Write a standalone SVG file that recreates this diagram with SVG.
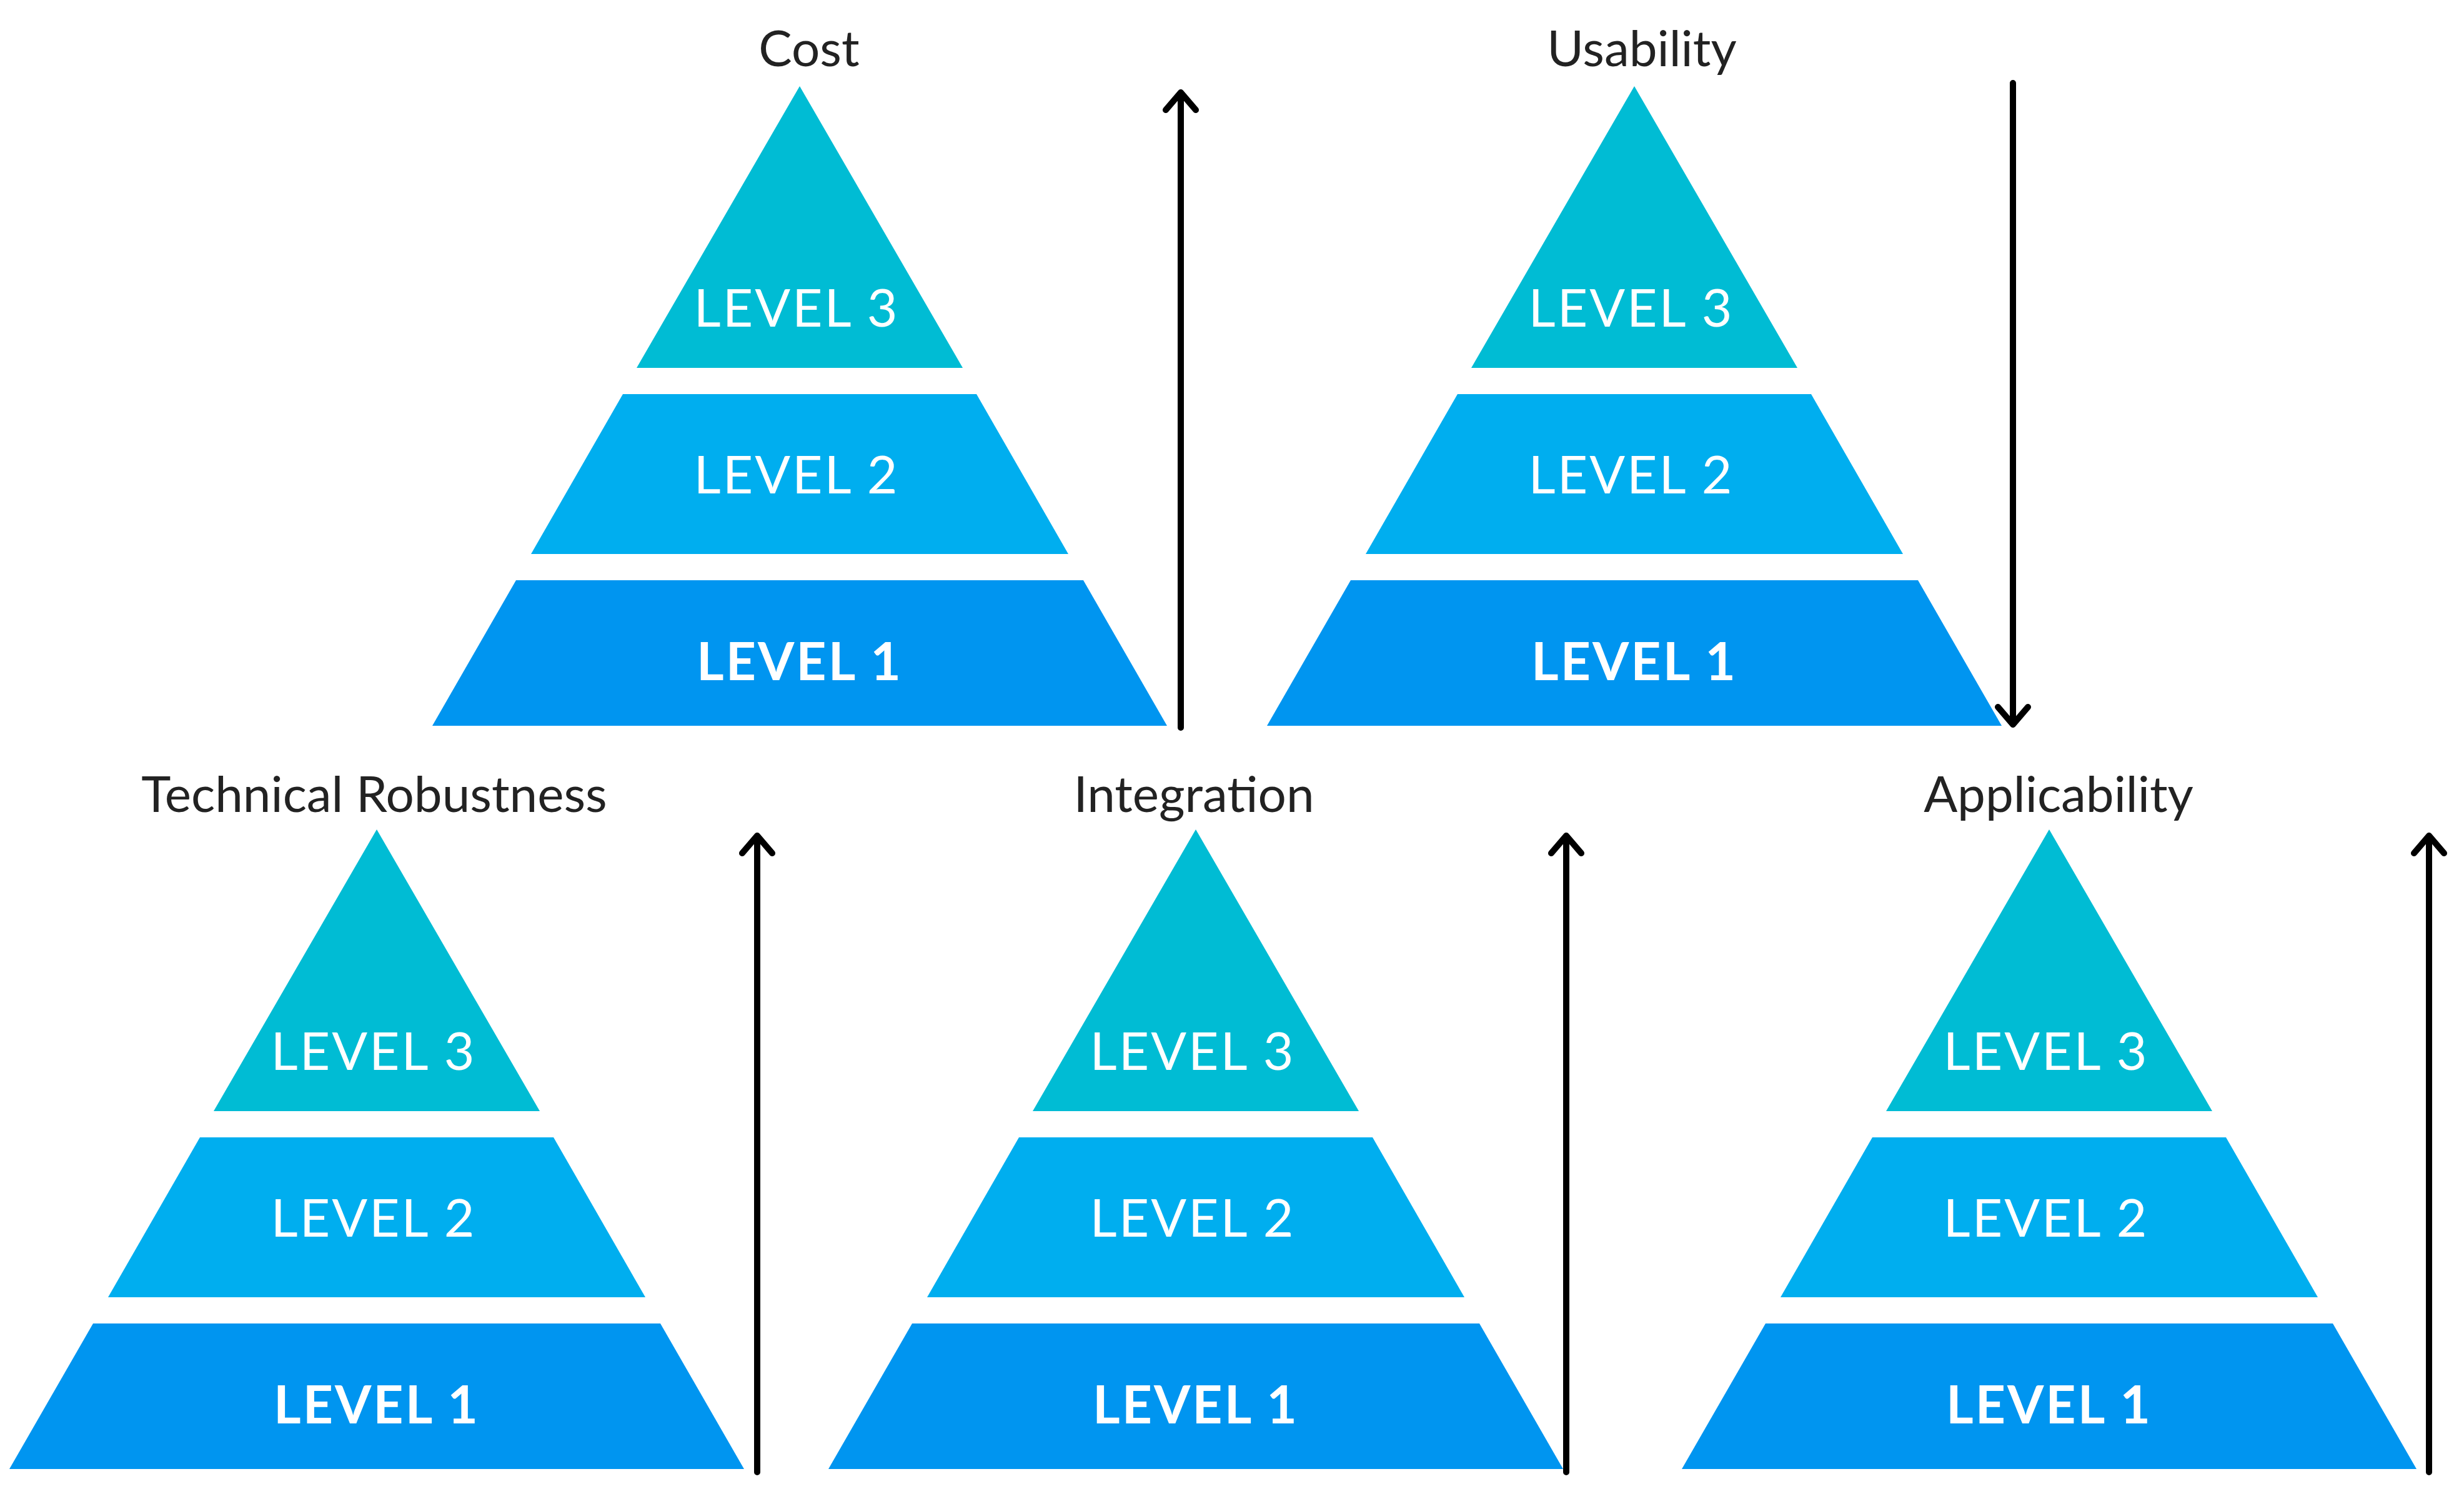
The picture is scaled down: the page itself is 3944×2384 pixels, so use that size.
<svg xmlns="http://www.w3.org/2000/svg" width="3944" height="2384" viewBox="0 0 3944 2384">
<style>
.l3{fill:#00BCD4}.l2{fill:#00AEEF}.l1{fill:#0095F0}
.lv{font-family:Lato,"Noto Sans",sans-serif;font-size:84px;fill:#fff;text-anchor:middle;letter-spacing:3px}
.b{font-weight:bold}
.t{font-family:Lato,"Noto Sans",sans-serif;font-size:80px;fill:#222;text-anchor:middle}
.ar{stroke:#000;stroke-width:10;fill:none;stroke-linecap:round;stroke-linejoin:round}
</style>
<defs>
<g id="pyr">
<polygon class="l3" points="0,0 261,451 -261,451"/>
<polygon class="l2" points="-283,493 283,493 430,749 -430,749"/>
<polygon class="l1" points="-454,791 454,791 588,1024 -588,1024"/>
<text class="lv" x="-5" y="385">LEVEL 3</text>
<text class="lv" x="-5" y="652">LEVEL 2</text>
<text class="lv b" x="0" y="951">LEVEL 1</text>
</g>
</defs>
<g id="cost"><use href="#pyr" x="1280" y="138"/><text class="t" x="1295" y="106">Cost</text></g>
<g id="usability"><use href="#pyr" x="2616" y="138"/><text class="t" x="2628" y="106">Usability</text></g>
<g id="technical"><use href="#pyr" x="603" y="1328"/><text class="t" x="599" y="1300">Technical Robustness</text></g>
<g id="integration"><use href="#pyr" x="1914" y="1328"/><text class="t" x="1911" y="1300">Integration</text></g>
<g id="applicability"><use href="#pyr" x="3280" y="1328"/><text class="t" x="3295" y="1300">Applicability</text></g>
<g id="connectors">
<path class="ar" d="M1890,1165 V148 M1866,176 L1890,148 L1914,176"/>
<path class="ar" d="M3222,133 V1160 M3198,1132 L3222,1160 L3246,1132"/>
<path class="ar" d="M1212,2357 V1338 M1188,1366 L1212,1338 L1236,1366"/>
<path class="ar" d="M2507,2357 V1338 M2483,1366 L2507,1338 L2531,1366"/>
<path class="ar" d="M3888,2357 V1338 M3864,1366 L3888,1338 L3912,1366"/>
</g>
</svg>
